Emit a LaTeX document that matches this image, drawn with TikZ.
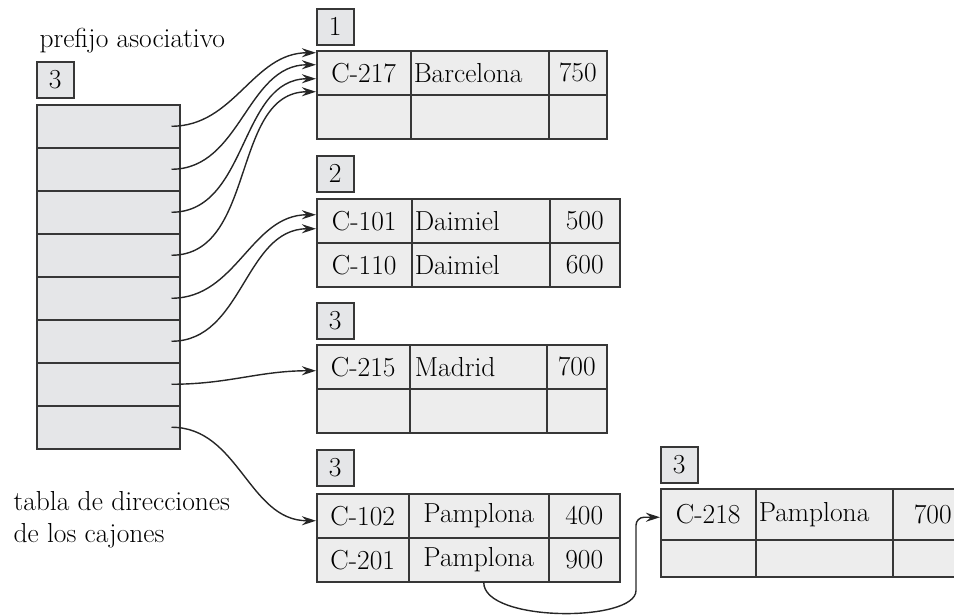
\documentclass[tikz,border=0pt]{standalone}
\usepackage{fontspec}
\usetikzlibrary{arrows.meta,calc}

\definecolor{linegray}{RGB}{55,55,55}
\definecolor{dirgray}{RGB}{229,230,232}
\definecolor{cellgray}{RGB}{237,237,237}

\begin{document}
\begin{tikzpicture}[x=1pt, y=1pt, font=\fontsize{27.5}{32}\selectfont]

% --- Define Styles ---
\tikzset{
    dircell/.style={draw=linegray, fill=dirgray, line width=1.5pt, minimum width=143pt, minimum height=43pt, inner sep=0pt, anchor=north west},
    idxbox/.style={draw=linegray, fill=dirgray, line width=1.5pt, minimum width=37pt, minimum height=36pt, inner sep=0pt, anchor=north west},
    cell/.style={draw=linegray, fill=cellgray, line width=1.5pt, minimum height=44pt, inner sep=0pt, anchor=north west},
    lcell/.style={cell, text width=#1, align=left, inner xsep=3pt},
    ptr/.style={-{Stealth[length=14pt, width=9pt]}, line width=1.4pt, black!85}
}

\useasboundingbox (0,0) rectangle (954,-614);
\clip (0,0) rectangle (954,-614);

% ================= DIRECTORY =================
\node[anchor=base west] (pfx) at (36,-47) {prefijo asociativo};
\node[idxbox] (i0) at (36,-61) {3};
\foreach \i in {1,...,8}
    \node[dircell] (d\i) at (36,{-104-(\i-1)*43}) {};
\node[anchor=base west] (tbl1) at (10,-510) {tabla de direcciones};
\node[anchor=base west] (tbl2) at (10,-542) {de los cajones};

% ================= BUCKET 1 =================
\begin{scope}[shift={(316,-8)}]
    \node[idxbox] (i1) at (0,0) {1};
    \node[cell, minimum width=94pt] (b1a) at (0,-42) {C-217};
    \node[lcell=132pt] (b1b) at (94,-42) {Barcelona};
    \node[cell, minimum width=58pt] (b1c) at (232,-42) {750};
    \node[cell, minimum width=94pt] (b1d) at (0,-86) {};
    \node[cell, minimum width=138pt] (b1e) at (94,-86) {};
    \node[cell, minimum width=58pt] (b1f) at (232,-86) {};
\end{scope}

% ================= BUCKET 2 =================
\begin{scope}[shift={(316,-155)}]
    \node[idxbox] (i2) at (0,0) {2};
    \node[cell, minimum width=95pt] (b2a) at (0,-43) {C-101};
    \node[lcell=132pt] (b2b) at (95,-43) {Daimiel};
    \node[cell, minimum width=70pt] (b2c) at (233,-43) {500};
    \node[cell, minimum width=95pt] (b2d) at (0,-87) {C-110};
    \node[lcell=132pt] (b2e) at (95,-87) {Daimiel};
    \node[cell, minimum width=70pt] (b2f) at (233,-87) {600};
\end{scope}

% ================= BUCKET 3 =================
\begin{scope}[shift={(316,-302)}]
    \node[idxbox] (i3) at (0,0) {3};
    \node[cell, minimum width=93pt] (b3a) at (0,-42) {C-215};
    \node[lcell=127pt, inner xsep=5pt] (b3b) at (93,-42) {Madrid};
    \node[cell, minimum width=60pt] (b3c) at (230,-42) {700};
    \node[cell, minimum width=93pt] (b3d) at (0,-86) {};
    \node[cell, minimum width=137pt] (b3e) at (93,-86) {};
    \node[cell, minimum width=60pt] (b3f) at (230,-86) {};
\end{scope}

% ================= BUCKET 4 =================
\begin{scope}[shift={(316,-449)}]
    \node[idxbox] (i4) at (0,0) {3};
    \node[cell, minimum width=92pt] (b4a) at (0,-44) {C-102};
    \node[cell, minimum width=140pt] (b4b) at (92,-44) {Pamplona};
    \node[cell, minimum width=71pt] (b4c) at (232,-44) {400};
    \node[cell, minimum width=92pt] (b4d) at (0,-88) {C-201};
    \node[cell, minimum width=140pt] (b4e) at (92,-88) {Pamplona};
    \node[cell, minimum width=71pt] (b4f) at (232,-88) {900};
\end{scope}

% ================= BUCKET 5 (overflow) =================
\begin{scope}[shift={(660,-446)}]
    \node[idxbox] (i5) at (0,0) {3};
    \node[cell, minimum width=95pt, minimum height=51pt] (b5a) at (0,-42) {C-218};
    \node[lcell=131pt, minimum height=51pt] (b5b) at (95,-42) {Pamplona};
    \node[cell, minimum width=80pt, minimum height=51pt] (b5c) at (232,-42) {700};
    \node[cell, minimum width=95pt, minimum height=37pt] (b5d) at (0,-93) {};
    \node[cell, minimum width=137pt, minimum height=37pt] (b5e) at (95,-93) {};
    \node[cell, minimum width=80pt, minimum height=37pt] (b5f) at (232,-93) {};
\end{scope}

% --- Pointers ---
\draw[ptr] ([xshift=-9pt]d1.east) to[out=0, in=180] ([yshift=20pt]b1a.west);
\draw[ptr] ([xshift=-9pt]d2.east) to[out=0, in=180] ([yshift=8pt]b1a.west);
\draw[ptr] ([xshift=-9pt]d3.east) to[out=0, in=180] ([yshift=-6pt]b1a.west);
\draw[ptr] ([xshift=-9pt]d4.east) to[out=0, in=180] ([yshift=-19pt]b1a.west);
\draw[ptr] ([xshift=-9pt]d5.east) to[out=0, in=180] ([yshift=6pt]b2a.west);
\draw[ptr] ([xshift=-9pt]d6.east) to[out=0, in=180] ([yshift=-8pt]b2a.west);
\draw[ptr] ([xshift=-9pt]d7.east) to[out=0, in=180] ([yshift=-4pt]b3a.west);
\draw[ptr] ([xshift=-9pt]d8.east) to[out=0, in=180] ([yshift=-5pt]b4a.west);

% chain to overflow bucket
\coordinate (turn) at ($(b5a.west |- b4e.south)+(-24,0)$);
\draw[ptr, rounded corners=8pt] ([xshift=5pt]b4e.south) .. controls +(0,-40) and +(0,-40) .. (turn) |- ([yshift=-3pt]b5a.west);

\end{tikzpicture}
\end{document}
